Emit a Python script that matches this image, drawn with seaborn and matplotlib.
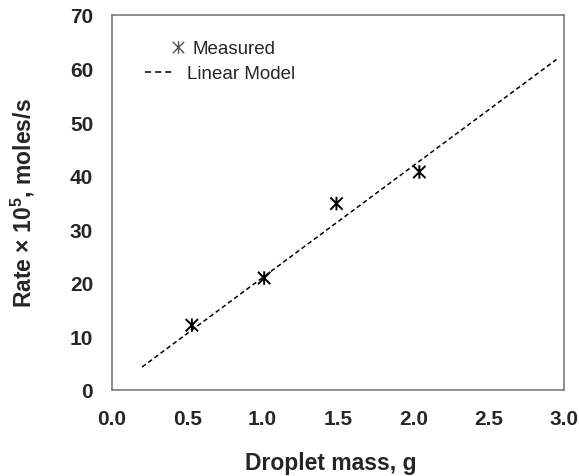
import matplotlib
matplotlib.use("Agg")
import matplotlib.pyplot as plt
from matplotlib.path import Path
from matplotlib.lines import Line2D
from matplotlib.ticker import MultipleLocator, FormatStrFormatter
import seaborn as sns
import pandas as pd

mass = [0.53, 1.01, 1.49, 2.04]
rate = [12.1, 20.9, 34.8, 40.7]
model_mass = [0.2, 2.95]
model_rate = [4.3, 61.7]

sns.set_theme(style="white")
plt.rcParams['font.family'] = ['Liberation Sans', 'DejaVu Sans']
plt.rcParams['mathtext.fontset'] = 'custom'
plt.rcParams['mathtext.rm'] = 'Liberation Sans:bold'
plt.rcParams['mathtext.bf'] = 'Liberation Sans:bold'
plt.rcParams['mathtext.default'] = 'bf'

star = Path([(-1, -1), (1, 1), (-1, 1), (1, -1), (0, -1.1), (0, 1.1)],
            [Path.MOVETO, Path.LINETO, Path.MOVETO, Path.LINETO, Path.MOVETO, Path.LINETO])

W, H = 579, 477
fig = plt.figure(figsize=(W / 100, H / 100), dpi=100)
ax = fig.add_axes([112 / W, 1 - 391 / H, (564 - 112) / W, (391 - 16) / H])

df_pts = pd.DataFrame({"mass": mass, "rate": rate})
df_mod = pd.DataFrame({"mass": model_mass, "rate": model_rate})

sns.lineplot(data=df_mod, x="mass", y="rate", ax=ax, color="black", lw=1.1,
             linestyle=(0, (3, 2)), legend=False)
sns.scatterplot(data=df_pts, x="mass", y="rate", ax=ax, marker=star, s=95,
                facecolor="none", edgecolor="black", color="black", linewidth=1.4,
                legend=False, zorder=3)

ax.xaxis.set_major_locator(MultipleLocator(0.5))
ax.xaxis.set_minor_locator(MultipleLocator(0.25))
ax.xaxis.set_major_formatter(FormatStrFormatter("%.1f"))
ax.yaxis.set_major_locator(MultipleLocator(10))
ax.yaxis.set_minor_locator(MultipleLocator(5))
ax.set_xlim(0, 3.0)
ax.set_ylim(0, 70)
ax.tick_params(which="both", direction="in", color="#707070", width=1)
ax.tick_params(which="major", length=5, labelsize=15, pad=13.5)
ax.tick_params(which="minor", length=4)
for lab in ax.get_xticklabels() + ax.get_yticklabels():
    lab.set_fontweight("bold")
for sp in ax.spines.values():
    sp.set_color("#7a7a7a")
    sp.set_linewidth(1.2)

ax.set_xlabel("Droplet mass, g", fontsize=16.5, fontweight="bold", labelpad=17)
ax.set_ylabel("Rate × 10$^{5}$, moles/s", fontsize=16.5, fontweight="bold", labelpad=24)
ax.xaxis.label.set_x(0.483)

fs = 13.5
fpx = fs * 100 / 72
h_meas = Line2D([], [], marker=star, markersize=9, markeredgewidth=1.0,
                color="#555555", linestyle="none")
h_lin = Line2D([], [], color="black", lw=1.1, linestyle=(0, (4, 2.6)))
leg1 = ax.legend([h_meas], ["Measured"], loc="upper left",
                 bbox_to_anchor=(171 / W, 1 - 41 / H), bbox_transform=fig.transFigure,
                 frameon=False, fontsize=fs, borderpad=0, borderaxespad=0,
                 handlelength=14 / fpx, handletextpad=8 / fpx)
ax.add_artist(leg1)
ax.legend([h_lin], ["Linear Model"], loc="upper left",
          bbox_to_anchor=(145 / W, 1 - 66 / H), bbox_transform=fig.transFigure,
          frameon=False, fontsize=fs, borderpad=0, borderaxespad=0,
          handlelength=27 / fpx, handletextpad=15 / fpx)

fig.savefig("out.png", dpi=100)
